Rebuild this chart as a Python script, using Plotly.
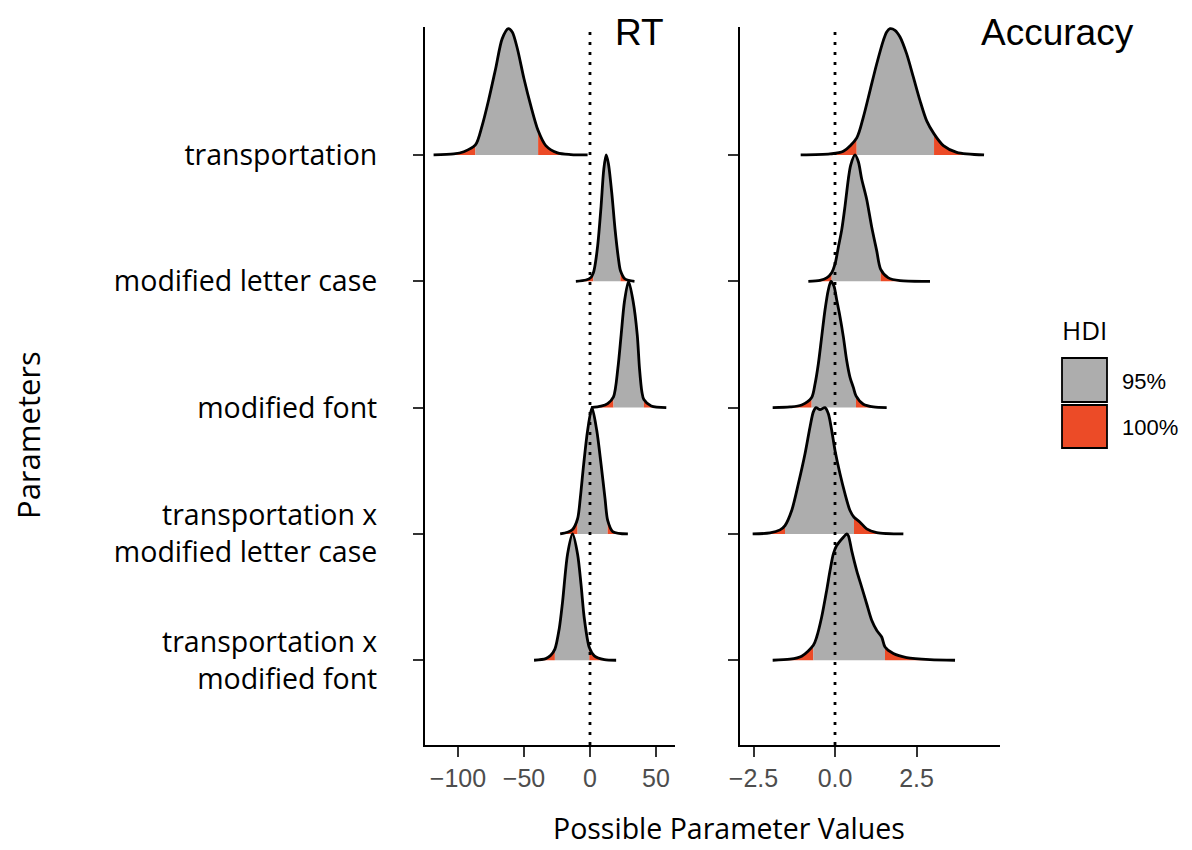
import plotly.graph_objects as go

# ---------------- data ----------------
params = ["transportation", "modified letter case", "modified font",
          "transportation x<br>modified letter case", "transportation x<br>modified font"]
param_pos = [5, 4, 3, 2, 1]
panel_titles = ["RT", "Accuracy"]
legend_labels = ["95%", "100%"]

rt_ticks = [-100, -50, 0, 50]
rt_ticktext = ["\u2212100", "\u221250", "0", "50"]
acc_ticks = [-2.5, 0.0, 2.5]
acc_ticktext = ["\u22122.5", "0.0", "2.5"]

# RT densities (x value, normalised density height) and 95% HDI
rt_T_x = [-118.5, -103.2, -95.6, -86.8, -81.7, -76.6, -71.5, -66.5, -61.9, -58.9, -55.0, -50.0, -44.9, -39.3, -33.5, -24.6, -14.5, -1.8]
rt_T_h = [0, 0.008, 0.026, 0.079, 0.233, 0.444, 0.683, 0.921, 1.0, 0.974, 0.841, 0.603, 0.392, 0.193, 0.074, 0.016, 0.003, 0]
rt_T_hdi = [-86.8, -39.3]

rt_MLC_x = [-10.7, -3.0, 0.8, 2.5, 3.3, 5.8, 8.4, 10.4, 12.2, 13.9, 16.5, 19.0, 21.6, 23.1, 26.6, 33.7]
rt_MLC_h = [0, 0.010, 0.031, 0.065, 0.097, 0.28, 0.594, 0.882, 1.0, 0.935, 0.70, 0.41, 0.175, 0.084, 0.018, 0]
rt_MLC_hdi = [2.5, 23.1]

rt_MF_x = [0.8, 8.4, 13.4, 17.8, 21.1, 23.6, 26.1, 29.2, 32.7, 35.8, 37.5, 39.3, 40.8, 46.4, 57.8]
rt_MF_h = [0, 0.011, 0.032, 0.085, 0.31, 0.576, 0.84, 1.0, 0.84, 0.576, 0.31, 0.125, 0.064, 0.013, 0]
rt_MF_hdi = [17.8, 40.8]

rt_TxMLC_x = [-22.6, -17.0, -13.2, -9.4, -7.4, -4.8, -1.8, 1.5, 5.1, 8.4, 11.4, 13.4, 17.2, 28.7]
rt_TxMLC_h = [0, 0.013, 0.035, 0.12, 0.28, 0.55, 0.82, 1.0, 0.82, 0.55, 0.28, 0.107, 0.019, 0]
rt_TxMLC_hdi = [-9.4, 13.4]

rt_TxMF_x = [-42.4, -33.5, -29.7, -26.6, -23.3, -20.8, -17.0, -13.2, -9.4, -6.8, -4.3, -0.5, 3.3, 10.9, 19.8]
rt_TxMF_h = [0, 0.013, 0.04, 0.088, 0.25, 0.46, 0.84, 1.0, 0.84, 0.6, 0.33, 0.10, 0.035, 0.005, 0]
rt_TxMF_hdi = [-26.6, -0.5]

# Accuracy densities
acc_T_x = [-1.053, -0.153, 0.256, 0.665, 0.869, 1.074, 1.278, 1.483, 1.585, 1.687, 1.840, 1.994, 2.198, 2.403, 2.607, 2.812, 3.037, 3.323, 3.732, 4.571]
acc_T_h = [0, 0.008, 0.029, 0.135, 0.30, 0.51, 0.72, 0.907, 0.974, 1.0, 0.987, 0.934, 0.80, 0.616, 0.43, 0.27, 0.167, 0.074, 0.021, 0]
acc_T_hdi = [0.665, 3.037]

acc_MLC_x = [-0.818, -0.460, -0.256, -0.102, 0.0, 0.102, 0.204, 0.307, 0.409, 0.481, 0.613, 0.716, 0.818, 0.971, 1.125, 1.278, 1.401, 1.636, 1.994, 2.914]
acc_MLC_h = [0, 0.008, 0.027, 0.068, 0.135, 0.27, 0.405, 0.595, 0.81, 0.92, 1.0, 0.946, 0.81, 0.65, 0.43, 0.243, 0.095, 0.027, 0.005, 0]
acc_MLC_hdi = [-0.102, 1.401]

acc_MF_x = [-1.912, -1.380, -1.022, -0.716, -0.613, -0.511, -0.409, -0.307, -0.204, -0.123, -0.031, 0.051, 0.153, 0.256, 0.358, 0.46, 0.562, 0.644, 0.869, 1.176, 1.585]
acc_MF_h = [0, 0.005, 0.021, 0.08, 0.187, 0.347, 0.56, 0.773, 0.933, 1.0, 0.96, 0.853, 0.72, 0.56, 0.373, 0.24, 0.16, 0.093, 0.027, 0.005, 0]
acc_MF_hdi = [-0.716, 0.644]

acc_TxMLC_x = [-2.526, -1.994, -1.687, -1.534, -1.329, -1.125, -0.920, -0.767, -0.665, -0.583, -0.460, -0.307, -0.204, -0.102, 0.0, 0.153, 0.307, 0.46, 0.583, 0.767, 0.971, 1.278, 2.096]
acc_TxMLC_h = [0, 0.008, 0.032, 0.066, 0.185, 0.397, 0.635, 0.847, 0.966, 1.0, 0.984, 1.0, 0.952, 0.82, 0.661, 0.476, 0.317, 0.185, 0.132, 0.093, 0.04, 0.011, 0]
acc_TxMLC_hdi = [-1.534, 0.583]

acc_TxMF_x = [-1.912, -1.380, -1.022, -0.665, -0.562, -0.409, -0.256, -0.153, -0.051, 0.051, 0.256, 0.358, 0.409, 0.511, 0.665, 0.818, 0.971, 1.125, 1.278, 1.432, 1.534, 1.789, 2.198, 2.914, 3.681]
acc_TxMF_h = [0, 0.008, 0.032, 0.118, 0.184, 0.342, 0.553, 0.71, 0.842, 0.908, 0.974, 1.0, 0.987, 0.868, 0.71, 0.579, 0.447, 0.316, 0.237, 0.184, 0.105, 0.053, 0.021, 0.005, 0]
acc_TxMF_hdi = [-0.665, 1.534]

rt_ridges = [(rt_T_x, rt_T_h, rt_T_hdi), (rt_MLC_x, rt_MLC_h, rt_MLC_hdi), (rt_MF_x, rt_MF_h, rt_MF_hdi),
             (rt_TxMLC_x, rt_TxMLC_h, rt_TxMLC_hdi), (rt_TxMF_x, rt_TxMF_h, rt_TxMF_hdi)]
acc_ridges = [(acc_T_x, acc_T_h, acc_T_hdi), (acc_MLC_x, acc_MLC_h, acc_MLC_hdi), (acc_MF_x, acc_MF_h, acc_MF_hdi),
              (acc_TxMLC_x, acc_TxMLC_h, acc_TxMLC_hdi), (acc_TxMF_x, acc_TxMF_h, acc_TxMF_hdi)]

# ---------------- styling ----------------
GRAY = "#ADADAD"
RED = "#EC4B27"
OFF = 8                      # page body margin in the browser
W, H = 1192 - OFF, 850 - OFF
ML, MR, MT, MB = 425 - OFF, 192, 27 - OFF, 105
PW, PH = W - ML - MR, H - MT - MB
SCALE = 1.0
TEXT_FONT = "Open Sans"
NUM_FONT = "Liberation Sans, Arial, sans-serif"


def px_x(px):
    return (px - OFF - ML) / PW


def px_y(py):
    return (H - MB - (py - OFF)) / PH


fig = go.Figure()


def add_ridges(ridges, xa, ya):
    for (xs, hs, hdi), base in zip(ridges, param_pos):
        lo, hi = hdi
        segs = [
            ([x for x in xs if x <= lo], [h for x, h in zip(xs, hs) if x <= lo], RED),
            ([x for x in xs if lo <= x <= hi], [h for x, h in zip(xs, hs) if lo <= x <= hi], GRAY),
            ([x for x in xs if x >= hi], [h for x, h in zip(xs, hs) if x >= hi], RED),
        ]
        for sx, sh, col in segs:
            fig.add_trace(go.Scatter(x=[sx[0], sx[-1]], y=[base, base], mode="lines",
                                     line=dict(width=0), xaxis=xa, yaxis=ya,
                                     showlegend=False, hoverinfo="skip"))
            fig.add_trace(go.Scatter(x=sx, y=[base + SCALE * h for h in sh], mode="lines",
                                     line=dict(width=0, shape="spline", smoothing=0.8),
                                     fill="tonexty", fillcolor=col, xaxis=xa, yaxis=ya,
                                     showlegend=False, hoverinfo="skip"))
        fig.add_trace(go.Scatter(x=xs, y=[base + SCALE * h for h in hs], mode="lines",
                                 line=dict(color="black", width=2.8, shape="spline", smoothing=0.8),
                                 xaxis=xa, yaxis=ya, showlegend=False, hoverinfo="skip"))


add_ridges(rt_ridges, "x", "y")
add_ridges(acc_ridges, "x2", "y2")

axis_common = dict(showline=True, linecolor="black", linewidth=2, ticks="outside",
                   ticklen=10, tickwidth=2, tickcolor="#333333", showgrid=False,
                   zeroline=False, fixedrange=True)
yrange = [0.329, 6.013]

fig.update_layout(
    width=W, height=H,
    margin=dict(l=ML, r=MR, t=MT, b=MB),
    paper_bgcolor="white", plot_bgcolor="white",
    showlegend=False,
    xaxis=dict(domain=[0, px_x(675)], range=[-125, 64.4], anchor="y",
               tickvals=rt_ticks, ticktext=rt_ticktext,
               tickfont=dict(family=NUM_FONT, size=25, color="#4D4D4D"), **axis_common),
    xaxis2=dict(domain=[px_x(740), 1], range=[-2.914, 5.06], anchor="y2",
                tickvals=acc_ticks, ticktext=acc_ticktext,
                tickfont=dict(family=NUM_FONT, size=25, color="#4D4D4D"), **axis_common),
    yaxis=dict(range=yrange, anchor="x", tickvals=param_pos, ticktext=params,
               tickfont=dict(family=TEXT_FONT, size=28.5, color="black"),
               ticklabelstandoff=30, **axis_common),
    yaxis2=dict(range=yrange, anchor="x2", matches="y", tickvals=param_pos,
                showticklabels=False, **axis_common),
)

# zero reference lines
for xr in ["x", "x2"]:
    fig.add_shape(type="line", xref=xr, yref="paper", x0=0, x1=0, y0=0, y1=1,
                  line=dict(color="black", width=2.8, dash="3px,7px"), layer="above")

ann = []
ann.append(dict(text="Parameters", x=px_x(28), y=px_y(435), textangle=-90,
                font=dict(family=TEXT_FONT, size=31, color="black")))
ann.append(dict(text="Possible Parameter Values", x=px_x(729), y=px_y(828),
                font=dict(family=TEXT_FONT, size=28.5, color="black")))
ann.append(dict(text=panel_titles[0], x=px_x(666), y=px_y(32), xanchor="right",
                font=dict(family=NUM_FONT, size=37, color="black")))
ann.append(dict(text=panel_titles[1], x=px_x(1136), y=px_y(32), xanchor="right",
                font=dict(family=NUM_FONT, size=37, color="black")))
ann.append(dict(text="HDI", x=px_x(1060), y=px_y(330), xanchor="left",
                font=dict(family=TEXT_FONT, size=26, color="black")))
ann.append(dict(text=legend_labels[0], x=px_x(1120), y=px_y(381), xanchor="left",
                font=dict(family=NUM_FONT, size=22, color="black")))
ann.append(dict(text=legend_labels[1], x=px_x(1120), y=px_y(427), xanchor="left",
                font=dict(family=NUM_FONT, size=22, color="black")))
for a in ann:
    a.setdefault("xanchor", "center")
    a.update(xref="paper", yref="paper", yanchor="middle", showarrow=False)
fig.update_layout(annotations=ann)

# legend swatches
for (y0, y1), col in zip([(358, 402), (405, 448)], [GRAY, RED]):
    fig.add_shape(type="rect", xref="paper", yref="paper",
                  x0=px_x(1062), x1=px_x(1107), y0=px_y(y1), y1=px_y(y0),
                  fillcolor=col, line=dict(color="black", width=1.8))

fig.write_html("out.html")
